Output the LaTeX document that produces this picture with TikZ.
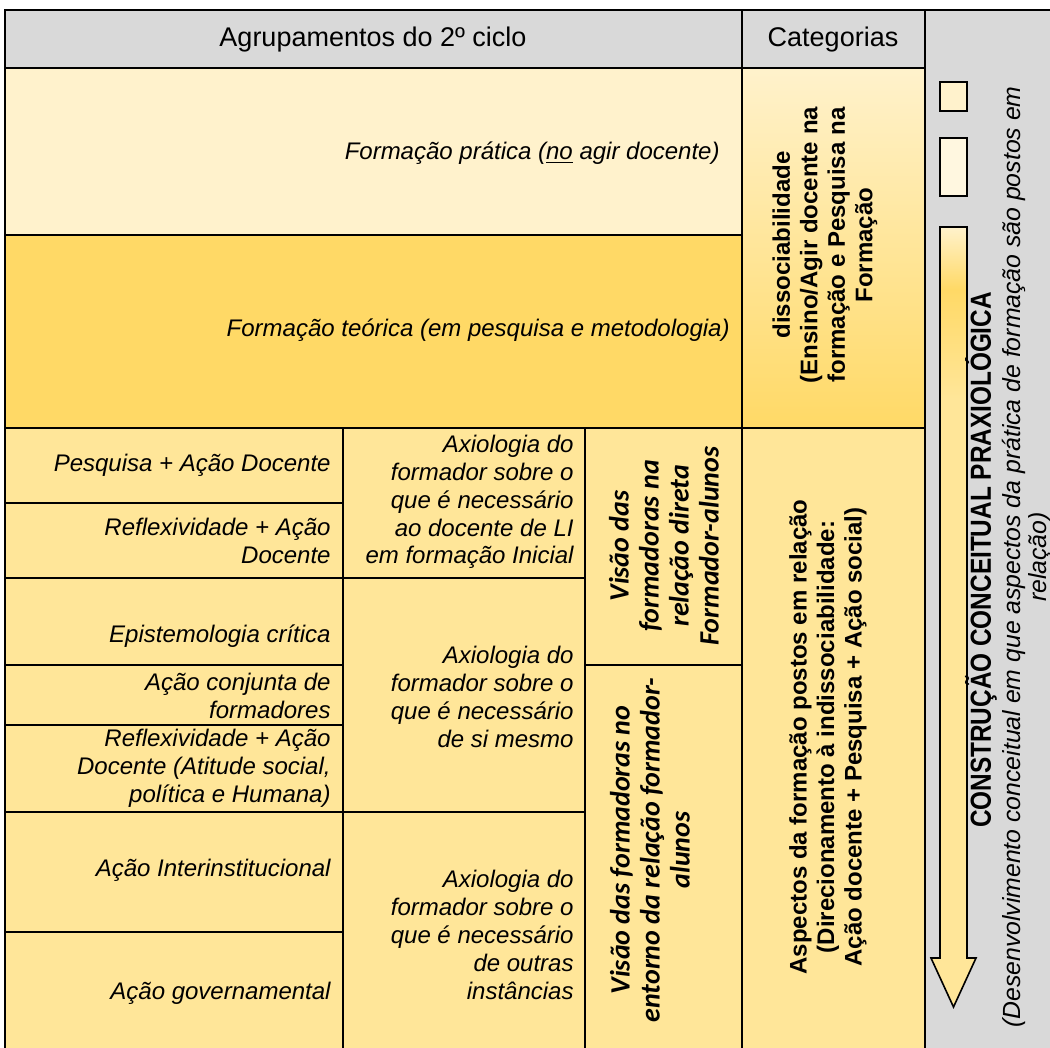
\documentclass[tikz,border=0pt]{standalone}
\usepackage{fontspec}
\setmainfont{Liberation Sans}
\newfontfamily\calibfont{Carlito}
\definecolor{cream}{HTML}{FFF2CC}
\definecolor{paleg}{HTML}{FFF7E0}
\definecolor{gold}{HTML}{FFD966}
\definecolor{lgold}{HTML}{FFE699}
\definecolor{greybg}{HTML}{D9D9D9}
\pgfdeclareverticalshading{arrowfade}{100bp}{color(0bp)=(lgold); color(64bp)=(lgold); color(71bp)=(gold); color(75bp)=(cream); color(100bp)=(cream)}

\begin{document}
\begin{tikzpicture}[x=0.5pt, y=-0.5pt,
		cell/.style={draw=black, line width=0.8pt},
		body/.style={font=\fontsize{12}{13.9}\selectfont\itshape, inner sep=0pt},
		rlbl/.style={body, align=right, anchor=east},
		uptext/.style={rotate=90, align=center, inner sep=0pt},
		boldup/.style={uptext, font=\fontsize{12}{13.75}\selectfont\bfseries},
		visao/.style={uptext, font=\calibfont\fontsize{14}{15}\selectfont\bfseries\itshape}]
			%%%%% START %%%%%
			\useasboundingbox (0,0) rectangle (1050,1048);
			\clip (0,0) rectangle (1050,1048);
			\fill[white] (0,0) rectangle (1050,1048);
			
			\fill[greybg] (925,10) rectangle (1055,1055);
			\draw[line width=0.8pt] (925,10) -- (1055,10);
			
			\draw[cell, fill=greybg] (5,10) rectangle (742,68);
			\draw[cell, fill=greybg] (742,10) rectangle (925,68);
			
			\draw[cell, fill=cream] (5,68) rectangle (742,235);
			\draw[cell, fill=gold] (5,235) rectangle (742,428);
			\draw[cell, top color=cream, bottom color=gold] (742,68) rectangle (925,428);
			
			\foreach \ya/\yb in {428/503, 503/578, 578/665, 665/725, 725/812, 812/932, 932/1055}
				\draw[cell, fill=lgold] (5,\ya) rectangle (343,\yb);
			\foreach \ya/\yb in {428/578, 578/812, 812/1055}
				\draw[cell, fill=lgold] (343,\ya) rectangle (585,\yb);
			\draw[cell, fill=lgold] (585,428) rectangle (742,665);
			\draw[cell, fill=lgold] (585,665) rectangle (742,1055);
			\draw[cell, fill=lgold] (742,428) rectangle (925,1055);
			
			\node[font=\fontsize{13.5}{15}\selectfont] (hgrp) at (373,40) {Agrupamentos do 2º ciclo};
			\node[font=\fontsize{13.5}{15}\selectfont] (hcat) at (833,40) {Categorias};
			
			\node[rlbl] (fpra) at (720,153) {Formação prática (\underline{no} agir docente)};
			\node[rlbl] (fteo) at (730,330) {Formação teórica (em pesquisa e metodologia)};
			
			\node[rlbl] (pqad) at (331,465) {Pesquisa + Ação Docente};
			\node[rlbl] (rfad) at (331,541) {Reflexividade + Ação\\Docente};
			\node[rlbl] (epcr) at (331,636) {Epistemologia crítica};
			\node[rlbl] (acjf) at (331,696) {Ação conjunta de\\formadores};
			\node[rlbl] (rfas) at (331,768) {Reflexividade + Ação\\Docente (Atitude social,\\política e Humana)};
			\node[rlbl] (acin) at (331,870) {Ação Interinstitucional};
			\node[rlbl] (acgv) at (331,993) {Ação governamental};
			
			\node[rlbl] (axdc) at (574,502) {Axiologia do\\formador sobre o\\que é necessário\\ao docente de LI\\em formação Inicial};
			\node[rlbl] (axsm) at (574,697) {Axiologia do\\formador sobre o\\que é necessário\\de si mesmo};
			\node[rlbl] (axoi) at (574,935) {Axiologia do\\formador sobre o\\que é necessário\\de outras\\instâncias};
			
			\node[visao] (vsdr) at (664,546) {Visão das\\formadoras na\\relação direta\\Formador-alunos};
			\node[visao] (vsen) at (650,850) {Visão das formadoras no\\entorno da relação formador-\\alunos};
			
			\node[boldup] (cdis) at (825,245) {dissociabilidade\\(Ensino/Agir docente na\\formação e Pesquisa na\\Formação};
			\node[boldup] (asfp) at (828,737) {Aspectos da formação postos em relação\\(Direcionamento à indissociabilidade:\\Ação docente + Pesquisa + Ação social)};
			
			\draw[cell, fill=cream] (940,82) rectangle (967,111);
			\draw[cell, fill=paleg] (940,138) rectangle (967,196);
			\draw[cell, shade, shading=arrowfade] (940,227) -- (967,227) -- (967,958) -- (976,958) -- (953.5,1007) -- (931,958) -- (940,958) -- cycle;
			
			\node[uptext, font=\fontsize{14.5}{16}\selectfont\bfseries] (ccpx) at (981,560) {\scalebox{0.84}[1]{CONSTRUÇÃO CONCEITUAL PRAXIOLÓGICA}};
			\node[uptext, font=\fontsize{12.4}{13}\selectfont\itshape] (dsvc) at (1027,557) {(Desenvolvimento conceitual em que aspectos da prática de formação são postos em\\relação)};
			%%%%% END %%%%%
\end{tikzpicture}
\end{document}
